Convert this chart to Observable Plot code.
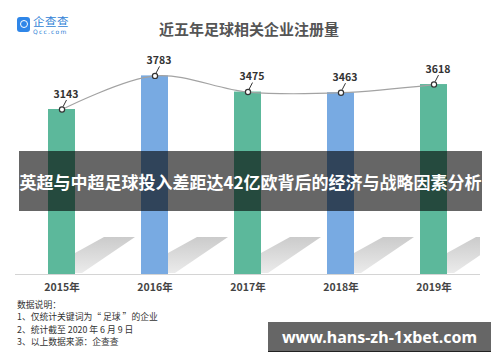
<!DOCTYPE html>
<html><head><meta charset="utf-8">
<script src="https://cdn.jsdelivr.net/npm/d3@7"></script>
<script src="https://cdn.jsdelivr.net/npm/@observablehq/plot@0.6"></script>
<style>
body{margin:0;background:#fff;font-family:"Noto Sans CJK SC","Noto Sans",sans-serif;}
#wrap{position:relative;width:500px;height:362px;overflow:hidden;background:#fff;}
#chart{position:absolute;left:0;top:48px;}
#title{position:absolute;left:0;top:19px;width:498px;text-align:center;font-size:15px;font-weight:bold;color:#555;line-height:20px;}
#logo-icon{position:absolute;left:17px;top:17px;width:13px;height:15px;background:#2f86e8;border-radius:3px;}
#logo-icon::after{content:"";position:absolute;left:2.5px;top:3px;width:6px;height:6px;border:1.5px solid #fff;border-radius:50%;}
#logo-cn{position:absolute;left:33px;top:14px;font-size:11.5px;color:#2f7fd6;line-height:15px;letter-spacing:0.5px;}
#logo-en{position:absolute;left:33px;top:28px;font-size:6px;color:#2f7fd6;line-height:7px;letter-spacing:1.2px;font-family:"DejaVu Sans",sans-serif;}
#band{position:absolute;left:19px;top:151px;width:463px;height:60px;background:rgba(0,0,0,0.6);color:#fff;font-weight:bold;font-size:17px;line-height:62px;text-align:center;white-space:nowrap;}
#notes{position:absolute;left:17px;top:299px;font-size:8.8px;line-height:12.3px;color:#333;}
#notes div{height:12.3px;}
#url{position:absolute;left:268px;top:322px;width:223px;height:30px;background:rgba(0,0,0,0.6);color:#fff;font-family:"Noto Sans","Open Sans",sans-serif;font-weight:bold;font-size:16px;line-height:30px;text-align:center;border-bottom:1px solid #222;box-sizing:border-box;}
</style></head>
<body><div id="wrap">
<div id="logo-icon"></div><div id="logo-cn">企查查</div><div id="logo-en">Qcc.com</div>
<div id="title"></div>
<div id="chart"></div>
<div id="band"></div>
<div id="notes"></div>
<div id="url"></div>
</div>
<script>
const titleText = "近五年足球相关企业注册量";
const years = ["2015年", "2016年", "2017年", "2018年", "2019年"];
const counts = [3143, 3783, 3475, 3463, 3618];
const barColors = ["#5cb89b", "#78aae2", "#5cb89b", "#78aae2", "#5cb89b"];
const bandText = "英超与中超足球投入差距达42亿欧背后的经济与战略因素分析";
const notes = ["数据说明：", "1、仅统计关键词为“ 足球 ”的企业", "2、统计截至 2020 年 6 月 9 日", "3、以上数据来源：企查查"];
const urlText = "www.hans-zh-1xbet.com";

document.getElementById("title").textContent = titleText;
document.getElementById("band").textContent = bandText;
document.getElementById("url").textContent = urlText;
document.getElementById("notes").innerHTML = notes.map(n => `<div>${n}</div>`).join("");

const data = years.map((y, i) => ({year: y, count: counts[i], color: barColors[i]}));

const W = 500, H = 252, mL = 15, mR = 20, mT = 16, mB = 26;
const chart = Plot.plot({
  width: W, height: H,
  marginTop: mT, marginBottom: mB, marginLeft: mL, marginRight: mR,
  style: {fontFamily: '"Noto Sans CJK SC", sans-serif', background: "transparent", color: "#444", overflow: "visible"},
  x: {domain: years, paddingInner: 0.71, paddingOuter: 0.355},
  y: {domain: [0, 4000], axis: null},
  color: {type: "identity"},
  marks: [
    Plot.barY(data, {x: "year", y: "count", fill: "color"}),
    Plot.ruleY([0], {stroke: "#d4d4d4", strokeWidth: 1.2}),
    Plot.axisX({tickSize: 0, tickPadding: 9, fontSize: 10.5, fontWeight: "bold", label: null, fill: "#444"}),
    Plot.line(data, {x: "year", y: "count", curve: "catmull-rom", stroke: "#a3a3a3", strokeWidth: 1.2}),
    Plot.dot(data, {x: "year", y: "count", r: 2.6, fill: "white", stroke: "#333", strokeWidth: 1.2}),
    Plot.text(data, {x: "year", y: "count", text: d => String(d.count), dx: 4, dy: -15, fontSize: 10.5, fontWeight: "bold", fill: "#333"})
  ]
});
document.getElementById("chart").appendChild(chart);

// decorations derived from the chart's own scales
const xs = chart.scale("x"), ys = chart.scale("y");
const bw = xs.bandwidth;
const svg = d3.select(chart);
const defs = svg.insert("defs", ":first-child");
const grad = defs.append("linearGradient").attr("id", "shgrad").attr("x1", 0).attr("y1", 0).attr("x2", 0).attr("y2", 1);
grad.append("stop").attr("offset", "0%").attr("stop-color", "#cbcbcb");
grad.append("stop").attr("offset", "100%").attr("stop-color", "#ebebeb");
defs.append("clipPath").attr("id", "shclip").append("rect")
  .attr("x", mL).attr("y", 0).attr("width", W - mL - mR).attr("height", H);
const yb = ys.apply(0);
const shadows = svg.insert("g", "g").attr("clip-path", "url(#shclip)");
data.forEach(d => {
  const xr = xs.apply(d.year) + bw;
  const pts = [[xr, yb - 1], [xr, yb - 21], [xr + 29, yb - 37], [xr + 60, yb - 37], [xr + 7, yb - 1]];
  shadows.append("polygon").attr("points", pts.map(p => p.join(",")).join(" ")).attr("fill", "url(#shgrad)");
});
const leaders = svg.append("g");
data.forEach(d => {
  const cx = xs.apply(d.year) + bw / 2, cy = ys.apply(d.count);
  leaders.append("line").attr("x1", cx + 1.6).attr("y1", cy - 2.4).attr("x2", cx + 5).attr("y2", cy - 9)
    .attr("stroke", "#333").attr("stroke-width", 1);
});
</script>
</body></html>
